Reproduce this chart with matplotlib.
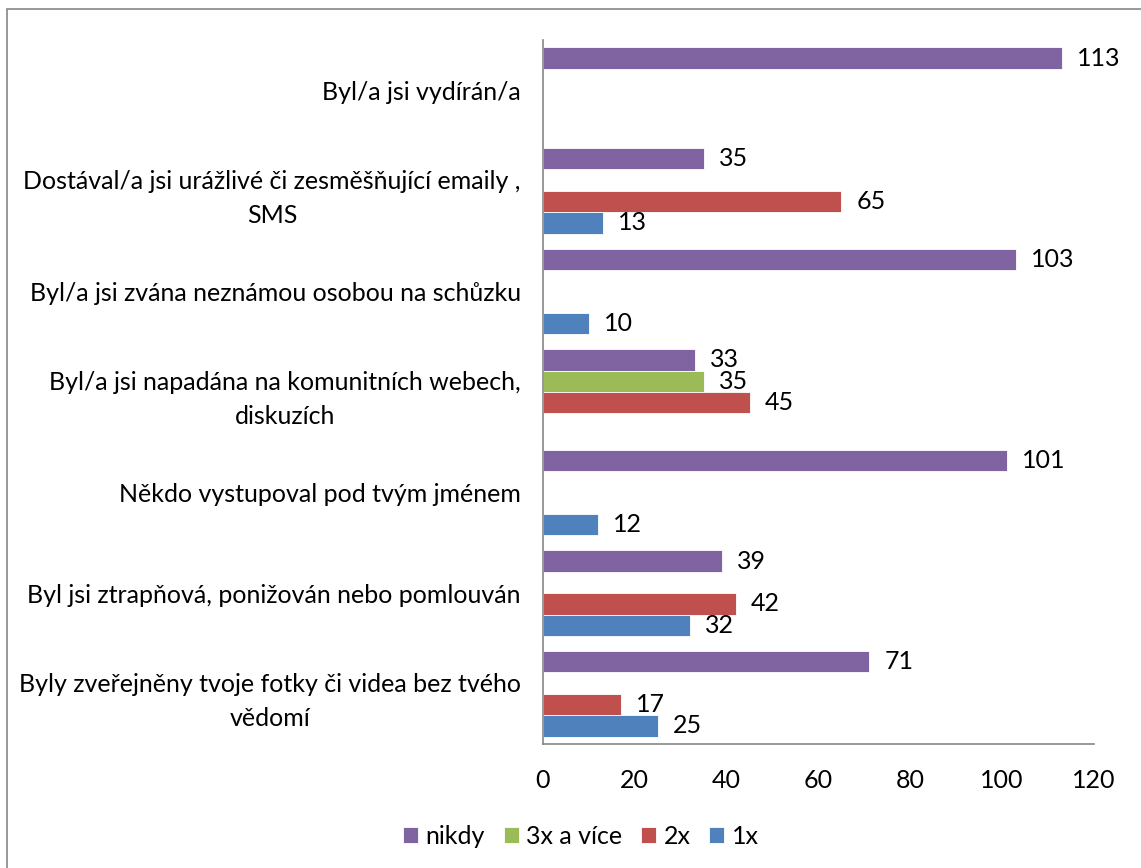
import matplotlib
matplotlib.use("Agg")
import matplotlib.pyplot as plt
from matplotlib.patches import Rectangle
import numpy as np

plt.rcParams["font.family"] = ["Lato", "DejaVu Sans"]

categories = [
    "Byl/a jsi vydírán/a",
    "Dostával/a jsi urážlivé či zesměšňující emaily ,\nSMS",
    "Byl/a jsi zvána neznámou osobou na schůzku",
    "Byl/a jsi napadána na komunitních webech,\ndiskuzích",
    "Někdo vystupoval pod tvým jménem",
    "Byl jsi ztrapňová, ponižován nebo pomlouván",
    "Byly zveřejněny tvoje fotky či videa bez tvého\nvědomí",
]
series_names = ["nikdy", "3x a více", "2x", "1x"]
nikdy = [113, 35, 103, 33, 101, 39, 71]
vice3 = [None, None, None, 35, None, None, None]
dvakrat = [None, 65, None, 45, None, 42, 17]
jednou = [None, 13, 10, None, 12, 32, 25]
xticks = [0, 20, 40, 60, 80, 100, 120]

colors = ["#8064A2", "#9BBB59", "#C0504D", "#4F81BD"]

W, H = 1141, 868
fig = plt.figure(figsize=(W / 100, H / 100), dpi=100)
ax = fig.add_axes([543 / W, 1 - 744 / H, (1094 - 543) / W, (744 - 40) / H])

fs = 18
bar_h = 0.213
y = np.arange(len(categories))
all_series = [nikdy, vice3, dvakrat, jednou]
for k, (name, vals, col) in enumerate(zip(series_names, all_series, colors)):
    offs = (k - 1.5) * bar_h
    v = np.array([np.nan if x is None else x for x in vals], dtype=float)
    ax.barh(y + offs, np.nan_to_num(v), height=bar_h, color=col,
            edgecolor="white", linewidth=0.6, label=name)
    for yi, val in zip(y + offs, vals):
        if val is None:
            continue
        ax.annotate(str(val), xy=(val, yi), xytext=(11, 0), textcoords="offset points",
                    ha="left", va="center", fontsize=fs, color="black")

ax.set_xlim(0, 120)
ax.set_ylim(len(categories) - 0.5, -0.5)
ax.set_xticks(xticks)
ax.set_xticklabels([str(t) for t in xticks], fontsize=fs)
ax.set_yticks(y)
ax.set_yticklabels(categories, fontsize=fs, multialignment="center", linespacing=1.6)
ax.tick_params(axis="both", length=0)
ax.tick_params(axis="x", pad=18)
ax.tick_params(axis="y", pad=16)
for s in ["top", "right"]:
    ax.spines[s].set_visible(False)
for s in ["left", "bottom"]:
    ax.spines[s].set_color("#868686")
    ax.spines[s].set_linewidth(1.2)

fig.legend(loc="center", bbox_to_anchor=(581 / W, 1 - 836 / H), ncol=4,
           frameon=False, fontsize=fs, handlelength=0.6, handleheight=0.6,
           handletextpad=0.3, columnspacing=0.75)

fig.patches.append(Rectangle((7 / W, -0.1), 1.2, 1 - 9 / H + 0.1, transform=fig.transFigure,
                             fill=False, edgecolor="#868686", linewidth=1.2))

fig.savefig("out.png", dpi=100)
